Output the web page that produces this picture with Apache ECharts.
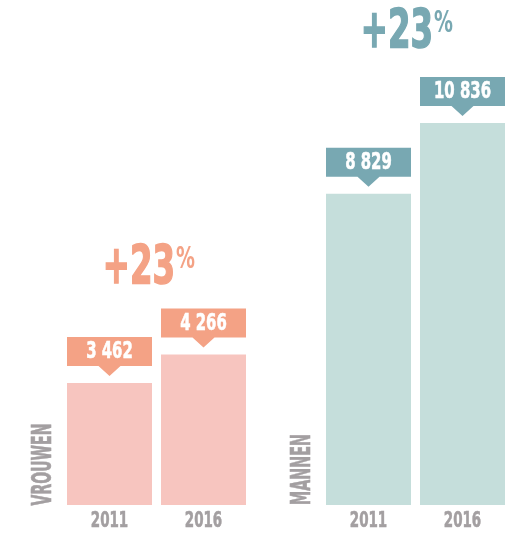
<!DOCTYPE html>
<html>
<head>
<meta charset="utf-8">
<script src="https://cdn.jsdelivr.net/npm/echarts@6/dist/echarts.min.js"></script>
<style>
  html, body { margin: 0; padding: 0; background: #fff; }
  #chart { width: 519px; height: 533px; }
</style>
</head>
<body>
<div id="chart"></div>
<script>
// data
const years = ['2011', '2016'];
const vrouwen = [3462, 4266];
const mannen = [8829, 10836];
const groupNames = ['VROUWEN', 'MANNEN'];

const FONT = '"Liberation Sans Narrow", "DejaVu Sans Condensed", sans-serif';
const GRAY = '#A39FA1';
const colors = [
  { bar: '#F7C5BF', box: '#F4A285' },
  { bar: '#C5DEDB', box: '#78A8B2' },
];

const fmt = (v) => String(v).replace(/\B(?=(\d{3})+(?!\d))/g, ' ');
const growth = (arr) => Math.round((arr[1] / arr[0] - 1) * 100);

// callout box with pointer above each bar, plus the year under it
const renderCallout = (color) => (params, api) => {
  const p = api.coord([api.value(0), api.value(1)]);
  const base = api.coord([api.value(0), 0]);
  const cx = p[0];
  const w = 85;
  const top = p[1] - 46;
  const bot = p[1] - 17;
  const tip = p[1] - 7;
  return {
    type: 'group',
    children: [
      {
        type: 'polygon',
        shape: {
          points: [
            [cx - w / 2, top], [cx + w / 2, top], [cx + w / 2, bot],
            [cx + 11, bot], [cx, tip], [cx - 11, bot], [cx - w / 2, bot],
          ],
        },
        style: { fill: color },
      },
      {
        type: 'text',
        x: cx,
        y: (top + bot) / 2 + 1,
        scaleX: 0.72,
        style: {
          text: fmt(api.value(1)),
          fill: '#fff',
          stroke: '#fff',
          lineWidth: 0.6,
          font: 'bold 23px ' + FONT,
          align: 'center',
          verticalAlign: 'middle',
        },
      },
      {
        type: 'text',
        x: cx,
        y: base[1] + 16,
        scaleX: 0.68,
        style: {
          text: years[api.value(0)],
          fill: GRAY,
          stroke: GRAY,
          lineWidth: 0.6,
          font: 'bold 22px ' + FONT,
          align: 'center',
          verticalAlign: 'middle',
        },
      },
    ],
  };
};

const makeGrid = (left) => ({ left: left, width: 188, top: 82, bottom: 28 });

const makeXAxis = (idx) => ({
  type: 'category',
  gridIndex: idx,
  data: years,
  axisLine: { show: false },
  axisTick: { show: false },
  axisLabel: { show: false },
});

const makeYAxis = (idx) => ({
  type: 'value',
  gridIndex: idx,
  min: 0,
  max: 12000,
  show: false,
});

const makeSeries = (idx, values) => [
  {
    type: 'bar',
    xAxisIndex: idx,
    yAxisIndex: idx,
    barWidth: 85,
    itemStyle: { color: colors[idx].bar },
    data: values,
    silent: true,
  },
  {
    type: 'custom',
    xAxisIndex: idx,
    yAxisIndex: idx,
    renderItem: renderCallout(colors[idx].box),
    data: values.map((v, i) => [i, v]),
    clip: false,
    silent: true,
  },
];

// +xx% headline
const percentText = (cx, cy, color, pct) => [
  {
    type: 'text',
    x: cx,
    y: cy,
    scaleX: 0.68,
    style: {
      text: '+' + pct,
      fill: color,
      stroke: color,
      lineWidth: 1.5,
      font: 'bold 53px ' + FONT,
      align: 'right',
      verticalAlign: 'middle',
    },
  },
  {
    type: 'text',
    x: cx + 1,
    y: cy - 9,
    scaleX: 0.7,
    style: {
      text: '%',
      fill: color,
      font: 'bold 30px ' + FONT,
      align: 'left',
      verticalAlign: 'middle',
    },
  },
];

const groupLabel = (cx, cy, text, sx) => ({
  type: 'text',
  x: cx,
  y: cy,
  rotation: Math.PI / 2,
  scaleX: sx,
  style: {
    text: text,
    fill: GRAY,
    stroke: GRAY,
    lineWidth: 0.6,
    font: 'bold 26px ' + FONT,
    align: 'center',
    verticalAlign: 'middle',
  },
});

const option = {
  animation: false,
  grid: [makeGrid(62.5), makeGrid(321.5)],
  xAxis: [makeXAxis(0), makeXAxis(1)],
  yAxis: [makeYAxis(0), makeYAxis(1)],
  series: [...makeSeries(0, vrouwen), ...makeSeries(1, mannen)],
  graphic: [
    ...percentText(175, 269, colors[0].box, growth(vrouwen)),
    ...percentText(433, 33, colors[1].box, growth(mannen)),
    groupLabel(44.5, 464.5, groupNames[0], 0.6),
    groupLabel(303, 469.5, groupNames[1], 0.61),
  ],
};

const chart = echarts.init(document.getElementById('chart'));
chart.setOption(option);
</script>
</body>
</html>
